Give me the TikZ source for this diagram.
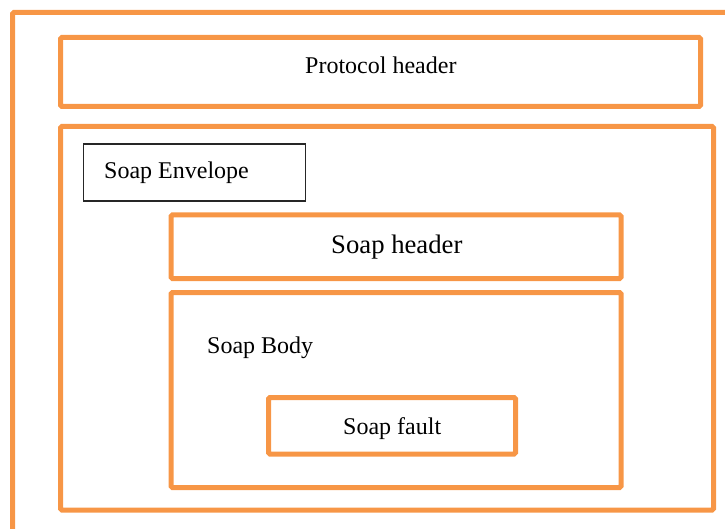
\documentclass[tikz,border=0pt]{standalone}
\usepackage{fontspec}
\setmainfont{Liberation Serif}
\definecolor{ora}{HTML}{F79646}
\begin{document}
\begin{tikzpicture}[x=1pt,y=-1pt,
  obox/.style={draw=ora,line width=5pt,rounded corners=1.5pt},
  kbox/.style={draw=black!85,line width=1.2pt},
  lbl/.style={anchor=base west,inner sep=0pt,font=\fontsize{24}{28}\selectfont},
  lblbig/.style={anchor=base west,inner sep=0pt,font=\fontsize{26.7}{30}\selectfont}]
\useasboundingbox (0,0) rectangle (725,529);
\clip (0,0) rectangle (725,529);
% outer frame (runs beyond the picture)
\coordinate (oTL) at (12.5,12.5);
\coordinate (oBL) at (12.5,560);
\coordinate (oTR) at (760,12.5);
\draw[obox] (oBL) -- (oTL) -- (oTR);
% protocol header
\coordinate (phA) at (60.5,37.5);
\coordinate (phB) at (700.5,106.5);
\draw[obox] (phA) rectangle (phB);
\node[lbl] (ph) at (305,73.5) {Protocol header};
% envelope
\coordinate (enA) at (60.5,126.5);
\coordinate (enB) at (713.5,510);
\draw[obox] (enA) rectangle (enB);
\coordinate (seA) at (83.5,144);
\coordinate (seB) at (305.5,201);
\draw[kbox] (seA) rectangle (seB);
\node[lbl] (se) at (104,178.5) {Soap Envelope};
% soap header
\coordinate (shA) at (171,214.8);
\coordinate (shB) at (621,278.5);
\draw[obox] (shA) rectangle (shB);
\node[lblbig] (sh) at (331,253.5) {Soap header};
% soap body
\coordinate (sbA) at (171,292.5);
\coordinate (sbB) at (621,487.5);
\draw[obox] (sbA) rectangle (sbB);
\node[lbl] (sb) at (207,353) {Soap Body};
% soap fault
\coordinate (sfA) at (268.5,397.5);
\coordinate (sfB) at (515.5,454);
\draw[obox] (sfA) rectangle (sfB);
\node[lbl] (sf) at (343,434) {Soap fault};
\end{tikzpicture}
\end{document}
